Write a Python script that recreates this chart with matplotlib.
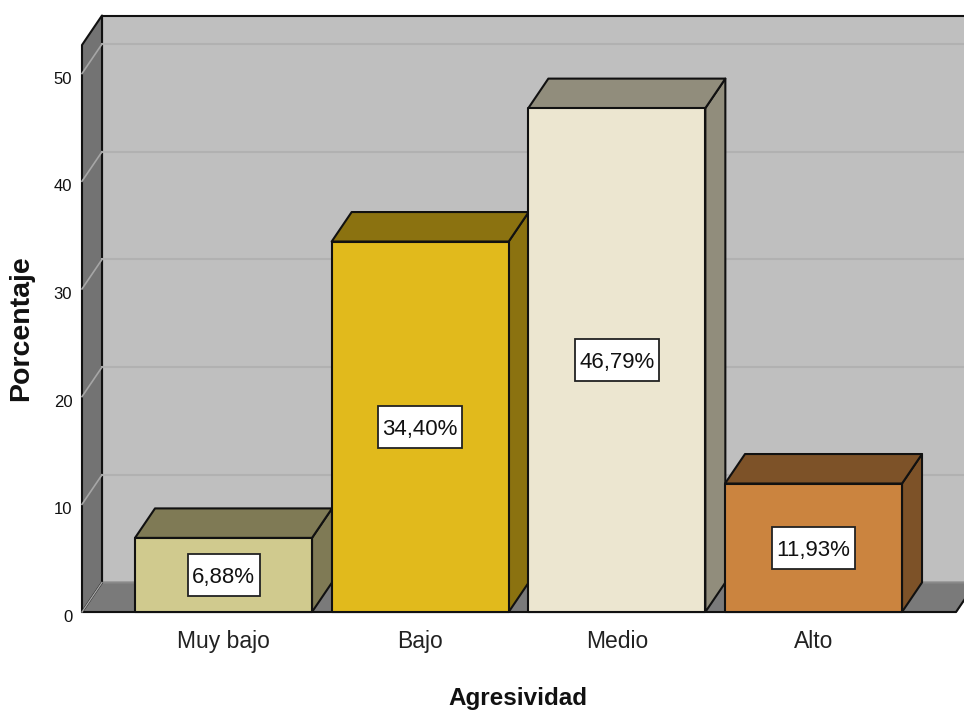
import matplotlib
matplotlib.use('Agg')
import matplotlib.pyplot as plt
from matplotlib.patches import Polygon, Rectangle
from matplotlib.transforms import ScaledTranslation

plt.rcParams['font.family'] = ['Liberation Sans', 'DejaVu Sans']

categories = ["Muy bajo", "Bajo", "Medio", "Alto"]
percent = [6.88, 34.40, 46.79, 11.93]
percent_labels = ["6,88%", "34,40%", "46,79%", "11,93%"]
y_ticks = [0, 10, 20, 30, 40, 50]

front_colors = ['#D0CA8E', '#E1BA1C', '#ECE6D0', '#CB843F']
side_colors = ['#7F7A55', '#8B7210', '#918D7C', '#7D5228']

W, H = 964, 715
fig = plt.figure(figsize=(W / 100, H / 100), dpi=100)
ax = fig.add_axes([82 / W, 1 - 612 / H, (956 - 82) / W, (612 - 45) / H])

# 196.67 px per category, 10.77 px per percent point
x_min, x_max = -0.7195, 3.7245
y_max = 52.65
ax.set_xlim(x_min, x_max)
ax.set_ylim(0, y_max)
depth_x = 20 / 196.67
depth_y = 29.5 / 10.77
bar_width = 0.9


def poly(points, color, z, edge='#111111', lw=1.5):
    ax.add_patch(Polygon(points, closed=True, facecolor=color, edgecolor=edge,
                         linewidth=lw, joinstyle='round', zorder=z, clip_on=False))


# walls and floor
back_right = x_max + depth_x
poly([(x_min + depth_x, depth_y), (back_right, depth_y),
      (back_right, y_max + depth_y), (x_min + depth_x, y_max + depth_y)], '#BFBFBF', 1)
poly([(x_min, 0), (x_max, 0), (back_right, depth_y), (x_min + depth_x, depth_y)],
     '#7A7A7A', 1.5, edge='#8A8A8A', lw=1.5)
poly([(x_min, 0), (x_min + depth_x, depth_y),
      (x_min + depth_x, y_max + depth_y), (x_min, y_max)], '#737373', 2)
ax.plot([x_min, x_max, back_right], [0, 0, depth_y], color='#111111', lw=1.5,
        zorder=3, clip_on=False)

# gridlines on back wall and side wall
for t in y_ticks[1:]:
    ax.plot([x_min + depth_x, back_right], [t + depth_y] * 2, color='#B1B1B1', lw=1.5,
            zorder=3, clip_on=False)
    ax.plot([x_min, x_min + depth_x], [t, t + depth_y], color='#A6A6A6', lw=1.2,
            zorder=3, clip_on=False)
ax.plot([x_min, x_min + depth_x], [0, depth_y], color='#A6A6A6', lw=1.0, zorder=3, clip_on=False)

# bars
value_texts = []
for i, v in enumerate(percent):
    x0, x1 = i - bar_width / 2, i + bar_width / 2
    poly([(x1, 0), (x1 + depth_x, depth_y), (x1 + depth_x, v + depth_y), (x1, v)],
         side_colors[i], 4)
    poly([(x0, v), (x1, v), (x1 + depth_x, v + depth_y), (x0 + depth_x, v + depth_y)],
         side_colors[i], 4)
    poly([(x0, 0), (x1, 0), (x1, v), (x0, v)], front_colors[i], 5)
    value_texts.append(ax.text(i, v / 2, percent_labels[i], ha='center', va='center_baseline',
                               fontsize=16, color='#111111', zorder=7))

for s in ax.spines.values():
    s.set_visible(False)
ax.patch.set_visible(False)

ax.set_xticks(range(len(categories)))
ax.set_xticklabels(categories, fontsize=16.5, color='#222222')
ax.set_yticks(y_ticks)
ax.tick_params(axis='x', length=0, pad=13)
ax.tick_params(axis='y', length=0, pad=7, labelsize=12, labelcolor='#111111')
down = ScaledTranslation(0, -3 / 72, fig.dpi_scale_trans)
for lab in ax.get_yticklabels():
    lab.set_transform(lab.get_transform() + down)

ax.set_xlabel("Agresividad", fontsize=17.5, fontweight='bold', color='#111111')
ax.xaxis.set_label_coords((518 - 82) / (956 - 82), -(699 - 612) / (612 - 45), transform=ax.transAxes)
ax.xaxis.label.set_va('center')
ax.set_ylabel("Porcentaje", fontsize=20.5, fontweight='bold', color='#111111')
ax.yaxis.set_label_coords((21 - 82) / (956 - 82), (612 - 328) / (612 - 45), transform=ax.transAxes)
ax.yaxis.label.set_va('center')

# white boxes behind the value labels, sized from the drawn text
fig.canvas.draw()
renderer = fig.canvas.get_renderer()
for t, v, i in zip(value_texts, percent, range(len(percent))):
    w = t.get_window_extent(renderer).width + 9
    half_w = w / 2 / 196.67
    half_h = 21 / 10.77
    ax.add_patch(Rectangle((i - half_w, v / 2 - half_h), 2 * half_w, 2 * half_h,
                           facecolor='white', edgecolor='#222222', linewidth=1.3, zorder=6))

fig.savefig('out.png', dpi=100)
